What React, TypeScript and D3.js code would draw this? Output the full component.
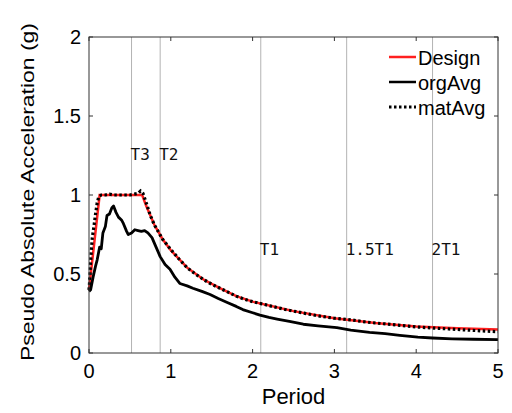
import React from 'react';
import * as d3 from 'd3';

// periods (s) and spectral accelerations (g)
const designPts: [number, number][] = [
  [0, 0.4], [0.13, 1.0], [0.65, 1.0], [0.7, 0.93], [0.8, 0.81], [0.9, 0.72], [1.0, 0.65],
  [1.2, 0.54], [1.4, 0.465], [1.6, 0.41], [1.8, 0.36], [2.0, 0.325], [2.5, 0.265],
  [3.0, 0.22], [3.5, 0.19], [4.0, 0.168], [4.5, 0.156], [5.0, 0.148],
];

const orgAvgPts: [number, number][] = [
  [0, 0.39], [0.02, 0.4], [0.05, 0.48], [0.08, 0.55], [0.1, 0.59], [0.13, 0.67], [0.15, 0.66],
  [0.17, 0.76], [0.2, 0.8], [0.22, 0.87], [0.25, 0.88], [0.28, 0.92], [0.3, 0.93], [0.33, 0.89],
  [0.36, 0.86], [0.4, 0.84], [0.42, 0.82], [0.46, 0.77], [0.48, 0.75], [0.52, 0.76], [0.56, 0.78],
  [0.6, 0.775], [0.64, 0.77], [0.68, 0.775], [0.72, 0.76], [0.77, 0.73], [0.82, 0.67],
  [0.87, 0.61], [0.93, 0.56], [0.99, 0.53], [1.05, 0.48], [1.11, 0.44], [1.2, 0.425],
  [1.27, 0.41], [1.38, 0.39], [1.48, 0.37], [1.58, 0.345], [1.69, 0.32], [1.8, 0.295],
  [1.88, 0.275], [2.0, 0.255], [2.09, 0.24], [2.2, 0.225], [2.3, 0.215], [2.45, 0.2],
  [2.62, 0.182], [2.8, 0.172], [3.03, 0.16], [3.2, 0.145], [3.43, 0.13], [3.62, 0.123],
  [3.8, 0.112], [4.02, 0.1], [4.2, 0.095], [4.44, 0.09], [4.7, 0.087], [5.0, 0.085],
];

const matAvgPts: [number, number][] = [
  [0, 0.4], [0.01, 0.47], [0.02, 0.58], [0.03, 0.66], [0.04, 0.73], [0.06, 0.8], [0.08, 0.88],
  [0.1, 0.95], [0.12, 0.99], [0.15, 1.0], [0.2, 1.0], [0.25, 1.005], [0.3, 1.0], [0.35, 1.0],
  [0.4, 1.0], [0.45, 1.0], [0.5, 1.0], [0.55, 1.005], [0.6, 1.01], [0.63, 1.025], [0.66, 1.01],
  [0.7, 0.95], [0.75, 0.87], [0.8, 0.81], [0.85, 0.765], [0.9, 0.72], [1.0, 0.655],
  [1.1, 0.595], [1.2, 0.54], [1.3, 0.5], [1.4, 0.465], [1.5, 0.435], [1.6, 0.41],
  [1.7, 0.385], [1.8, 0.36], [1.9, 0.34], [2.0, 0.325], [2.2, 0.3], [2.4, 0.275],
  [2.6, 0.255], [2.8, 0.235], [3.0, 0.22], [3.2, 0.21], [3.4, 0.195], [3.6, 0.185],
  [3.8, 0.175], [4.0, 0.165], [4.2, 0.158], [4.4, 0.152], [4.6, 0.146], [4.8, 0.14], [5.0, 0.135],
];

const markerNames = ['T3', 'T2', 'T1', '1.5T1', '2T1'];
const markerPeriods = [0.52, 0.87, 2.1, 3.15, 4.2];
const markerLabelY = [1.22, 1.22, 0.62, 0.62, 0.62];

const xTicks = [0, 1, 2, 3, 4, 5];
const yTicks = [0, 0.5, 1, 1.5, 2];

const legendNames = ['Design', 'orgAvg', 'matAvg'];

const W = 512, H = 413;
const left = 89, right = 498, top = 37, bottom = 353;

export default function App() {
  const x = d3.scaleLinear().domain([0, 5]).range([left, right]);
  const y = d3.scaleLinear().domain([0, 2]).range([bottom, top]);
  const line = d3.line<[number, number]>().x(d => x(d[0])).y(d => y(d[1]));
  const sans = 'Liberation Sans, Arial, sans-serif';
  const mono = 'DejaVu Sans Mono, monospace';

  return (
    <svg width={W} height={H} style={{ position: 'absolute', left: 0, top: 0, background: '#fff' }}>
      {/* marker period lines */}
      {markerPeriods.map((p, i) => (
        <line key={'m' + i} x1={x(p)} x2={x(p)} y1={y(0)} y2={y(2)} stroke="#b3b3b3" strokeWidth={1} />
      ))}
      {markerPeriods.map((p, i) => (
        <text key={'ml' + i} x={x(p) - 1} y={y(markerLabelY[i])} fontFamily={mono} fontSize={16} fill="#111">
          {markerNames[i]}
        </text>
      ))}

      {/* curves */}
      <path d={line(designPts) || ''} fill="none" stroke="#ff2020" strokeWidth={2.5} />
      <path d={line(orgAvgPts) || ''} fill="none" stroke="#000" strokeWidth={2.8} strokeLinejoin="round" />
      <path d={line(matAvgPts) || ''} fill="none" stroke="#000" strokeWidth={3.2} strokeDasharray="2.5,2.5" />

      {/* box */}
      <rect x={left} y={top} width={right - left} height={bottom - top} fill="none" stroke="#333" strokeWidth={1} />
      {xTicks.map(t => (
        <g key={'xt' + t}>
          <line x1={x(t)} x2={x(t)} y1={bottom} y2={bottom - 4} stroke="#333" />
          <line x1={x(t)} x2={x(t)} y1={top} y2={top + 4} stroke="#333" />
          <text x={x(t)} y={bottom + 25} textAnchor="middle" fontFamily={sans} fontSize={20}>{t}</text>
        </g>
      ))}
      {yTicks.map(t => (
        <g key={'yt' + t}>
          <line x1={left} x2={left + 4} y1={y(t)} y2={y(t)} stroke="#333" />
          <line x1={right} x2={right - 4} y1={y(t)} y2={y(t)} stroke="#333" />
          <text x={left - 8} y={y(t) + 7} textAnchor="end" fontFamily={sans} fontSize={20}>{t}</text>
        </g>
      ))}

      <text x={(left + right) / 2} y={404} textAnchor="middle" fontFamily={sans} fontSize={22}>Period</text>
      <text transform={`translate(34,192) rotate(-90)`} textAnchor="middle" fontFamily={sans} fontSize={19}
        textLength={338} lengthAdjust="spacingAndGlyphs">
        Pseudo Absolute Acceleration (g)
      </text>

      {/* legend */}
      {legendNames.map((n, i) => (
        <g key={n} transform={`translate(389,${57 + i * 25})`}>
          <line x1={0} x2={27} y1={0} y2={0}
            stroke={i === 0 ? '#ff2020' : '#000'} strokeWidth={i === 2 ? 3 : 2.5}
            strokeDasharray={i === 2 ? '2.5,2.5' : undefined} />
          <text x={29} y={8} fontFamily={sans} fontSize={20}>{n}</text>
        </g>
      ))}
    </svg>
  );
}
